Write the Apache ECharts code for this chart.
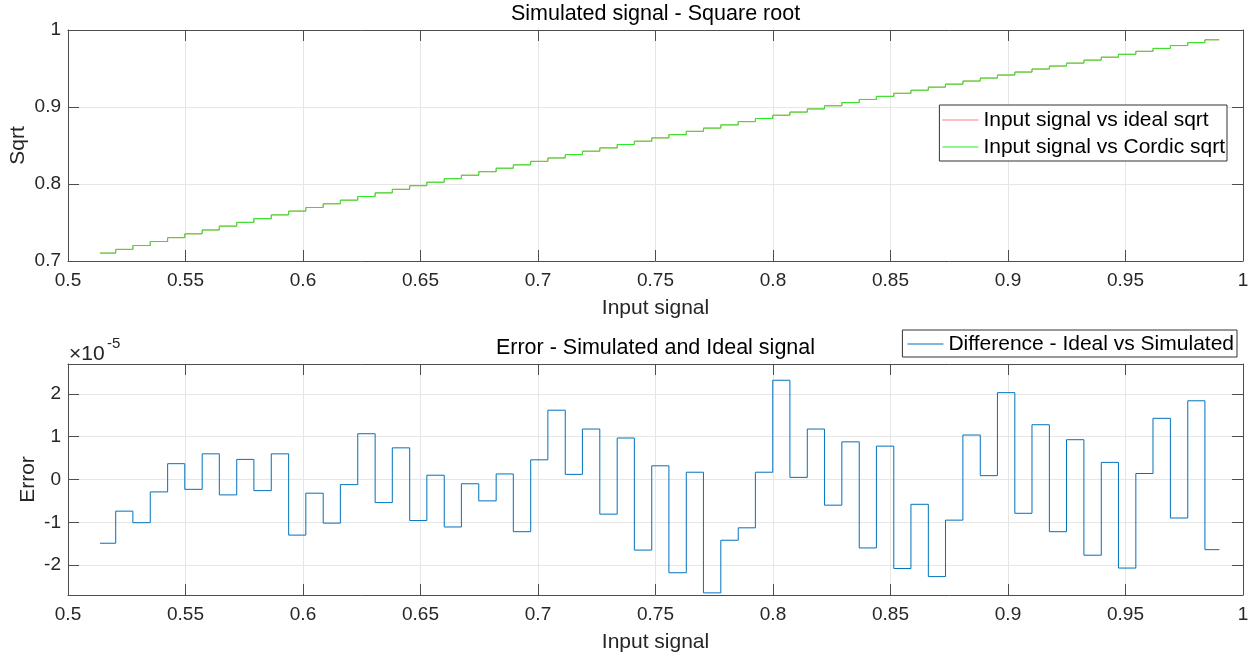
<!DOCTYPE html>
<html><head><meta charset="utf-8">
<script src="https://cdn.jsdelivr.net/npm/echarts@6/dist/echarts.min.js"></script>
<style>html,body{margin:0;padding:0;background:#fff}#c{width:1251px;height:659px}</style>
</head><body><div id="c"></div>
<script>
// x position where each held sample (step) begins
const stepStartX = [0.5136, 0.5203, 0.5276, 0.5350, 0.5424, 0.5497, 0.5571, 0.5644, 0.5718, 0.5791,
  0.5865, 0.5939, 0.6012, 0.6086, 0.6159, 0.6233, 0.6307, 0.6380, 0.6454, 0.6527,
  0.6601, 0.6674, 0.6748, 0.6822, 0.6895, 0.6969, 0.7042, 0.7116, 0.7189, 0.7263,
  0.7337, 0.7410, 0.7484, 0.7557, 0.7631, 0.7704, 0.7778, 0.7852, 0.7925, 0.7999,
  0.8072, 0.8146, 0.8219, 0.8293, 0.8367, 0.8440, 0.8514, 0.8587, 0.8661, 0.8734,
  0.8808, 0.8882, 0.8955, 0.9029, 0.9102, 0.9176, 0.9249, 0.9323, 0.9397, 0.9470,
  0.9544, 0.9617, 0.9691, 0.9765, 0.9838];
const stepEndX = 0.9899;
// Cordic sqrt output per step
const cordicSqrt = [0.7103, 0.7151, 0.7201, 0.7253, 0.7303, 0.7353, 0.7403, 0.7453, 0.7502, 0.7550,
  0.7599, 0.7648, 0.7695, 0.7743, 0.7790, 0.7838, 0.7885, 0.7931, 0.7978, 0.8023,
  0.8069, 0.8114, 0.8160, 0.8205, 0.8249, 0.8294, 0.8338, 0.8382, 0.8426, 0.8469,
  0.8513, 0.8556, 0.8599, 0.8641, 0.8684, 0.8726, 0.8768, 0.8810, 0.8851, 0.8893,
  0.8934, 0.8975, 0.9016, 0.9057, 0.9098, 0.9138, 0.9178, 0.9218, 0.9258, 0.9297,
  0.9337, 0.9376, 0.9415, 0.9454, 0.9493, 0.9532, 0.9570, 0.9609, 0.9647, 0.9685,
  0.9723, 0.9761, 0.9798, 0.9836, 0.9873];
// Ideal - simulated difference, in units of 1e-5
const errorE5 = [-1.49, -0.74, -1.01, -0.29, 0.37, -0.23, 0.60, -0.36, 0.47, -0.26,
  0.60, -1.30, -0.32, -1.02, -0.12, 1.07, -0.54, 0.74, -0.96, 0.10,
  -1.11, -0.10, -0.50, 0.13, -1.22, 0.46, 1.62, 0.12, 1.18, -0.81,
  0.97, -1.65, 0.32, -2.18, 0.17, -2.65, -1.42, -1.13, 0.17, 2.32,
  0.05, 1.18, -0.60, 0.88, -1.60, 0.78, -2.08, -0.58, -2.27, -0.95,
  1.04, 0.09, 2.03, -0.79, 1.28, -1.22, 0.93, -1.77, 0.40, -2.07,
  0.14, 1.43, -0.90, 1.84, -1.64];
const xTickValues = [0.5, 0.55, 0.6, 0.65, 0.7, 0.75, 0.8, 0.85, 0.9, 0.95, 1];

const idealSqrt = cordicSqrt.map((v, i) => v + errorE5[i] * 1e-5);
function stepData(vals) {
  const d = stepStartX.map((x, i) => [x, vals[i]]);
  d.push([stepEndX, vals[vals.length - 1]]);
  return d;
}

const FONT = '"Liberation Sans", Arial, Helvetica, sans-serif';
const TXT = '#262626';
const AX = '#4d4d4d';
const GRIDC = '#e6e6e6';

function xAx(grid, pos) {
  const bottom = pos === 'bottom';
  return {
    type: 'value', gridIndex: grid, position: pos,
    min: xTickValues[0], max: xTickValues[xTickValues.length - 1], interval: 0.05,
    axisLine: { show: true, onZero: false, lineStyle: { color: AX, width: 1 } },
    axisTick: { show: true, inside: true, length: 11, lineStyle: { color: AX } },
    axisLabel: { show: bottom, fontSize: 19, fontFamily: FONT, color: TXT, margin: 10 },
    splitLine: { show: bottom, lineStyle: { color: GRIDC, width: 1 } },
    name: bottom ? 'Input signal' : '', nameLocation: 'middle', nameGap: 37,
    nameTextStyle: { fontSize: 21, fontFamily: FONT, color: TXT }
  };
}
function yAx(grid, pos, opts) {
  const left = pos === 'left';
  return Object.assign({
    type: 'value', gridIndex: grid, position: pos,
    axisLine: { show: true, onZero: false, lineStyle: { color: AX, width: 1 } },
    axisTick: { show: true, inside: true, length: 11, lineStyle: { color: AX } },
    axisLabel: { show: left, fontSize: 19, fontFamily: FONT, color: TXT, margin: 7 },
    splitLine: { show: left, lineStyle: { color: GRIDC, width: 1 } },
    nameLocation: 'middle', nameRotate: 90, nameMoveOverlap: false,
    nameTextStyle: { fontSize: 21, fontFamily: FONT, color: TXT }
  }, opts);
}

const chart = echarts.init(document.getElementById('c'), null, { renderer: 'canvas' });
const errLabelFmt = v => (Math.abs(v - Math.round(v)) < 1e-6 ? String(Math.round(v)) : '');

chart.setOption({
  animation: false,
  backgroundColor: '#ffffff',
  textStyle: { fontFamily: FONT },
  grid: [
    { left: 68, top: 30, width: 1175, height: 231, containLabel: false, outerBoundsMode: 'none' },
    { left: 68, top: 364, width: 1175, height: 231, containLabel: false, outerBoundsMode: 'none' }
  ],
  xAxis: [xAx(0, 'bottom'), xAx(0, 'top'), xAx(1, 'bottom'), xAx(1, 'top')],
  yAxis: [
    yAx(0, 'left', { min: 0.7, max: 1, splitNumber: 3, name: 'Sqrt', nameGap: 39 }),
    yAx(0, 'right', { min: 0.7, max: 1, splitNumber: 3 }),
    yAx(1, 'left', { min: -2.7, max: 2.7, splitNumber: 5, name: 'Error', nameGap: 29,
      axisLabel: { show: true, fontSize: 19, fontFamily: FONT, color: TXT, margin: 7, formatter: errLabelFmt } }),
    yAx(1, 'right', { min: -2.7, max: 2.7, splitNumber: 5 })
  ],
  legend: [
    {
      data: ['Input signal vs ideal sqrt', 'Input signal vs Cordic sqrt'],
      orient: 'vertical', right: 24, top: 105, icon: 'rect',
      padding: [3, 2, 2, 3], itemGap: 3, itemWidth: 36, itemHeight: 1,
      backgroundColor: '#fff', borderColor: '#333', borderWidth: 1, borderRadius: 0,
      textStyle: { fontSize: 21, fontFamily: FONT, color: '#000', lineHeight: 24 }
    },
    {
      data: ['Difference - Ideal vs Simulated'],
      orient: 'vertical', right: 14, top: 330, icon: 'rect',
      padding: [2, 3, 1, 5], itemGap: 3, itemWidth: 36, itemHeight: 1,
      backgroundColor: '#fff', borderColor: '#333', borderWidth: 1, borderRadius: 0,
      textStyle: { fontSize: 21, fontFamily: FONT, color: '#000', lineHeight: 24 }
    }
  ],
  graphic: [
    { type: 'text', x: 655.5, y: 14, style: { text: 'Simulated signal - Square root', fontSize: 21.5, fontFamily: FONT, fill: '#000', textAlign: 'center', textVerticalAlign: 'middle' } },
    { type: 'text', x: 655.5, y: 348, style: { text: 'Error - Simulated and Ideal signal', fontSize: 21.5, fontFamily: FONT, fill: '#000', textAlign: 'center', textVerticalAlign: 'middle' } },
    { type: 'text', x: 69, y: 354, style: { text: '\u00d710', fontSize: 21, fontFamily: FONT, fill: TXT, textAlign: 'left', textVerticalAlign: 'middle' } },
    { type: 'text', x: 107, y: 344, style: { text: '-5', fontSize: 15, fontFamily: FONT, fill: TXT, textAlign: 'left', textVerticalAlign: 'middle' } }
  ],
  series: [
    {
      name: 'Input signal vs ideal sqrt', type: 'line', step: 'end', xAxisIndex: 0, yAxisIndex: 0,
      symbol: 'none', data: stepData(idealSqrt),
      lineStyle: { color: '#ff8080', width: 1 }, itemStyle: { color: '#ff8080' }
    },
    {
      name: 'Input signal vs Cordic sqrt', type: 'line', step: 'end', xAxisIndex: 0, yAxisIndex: 0,
      symbol: 'none', data: stepData(cordicSqrt),
      lineStyle: { color: '#22ee22', width: 1 }, itemStyle: { color: '#22ee22' }
    },
    {
      name: 'Difference - Ideal vs Simulated', type: 'line', step: 'end', xAxisIndex: 2, yAxisIndex: 2,
      symbol: 'none', data: stepData(errorE5),
      lineStyle: { color: '#0072bd', width: 1 }, itemStyle: { color: '#0072bd' }
    }
  ]
});
</script>
</body></html>
